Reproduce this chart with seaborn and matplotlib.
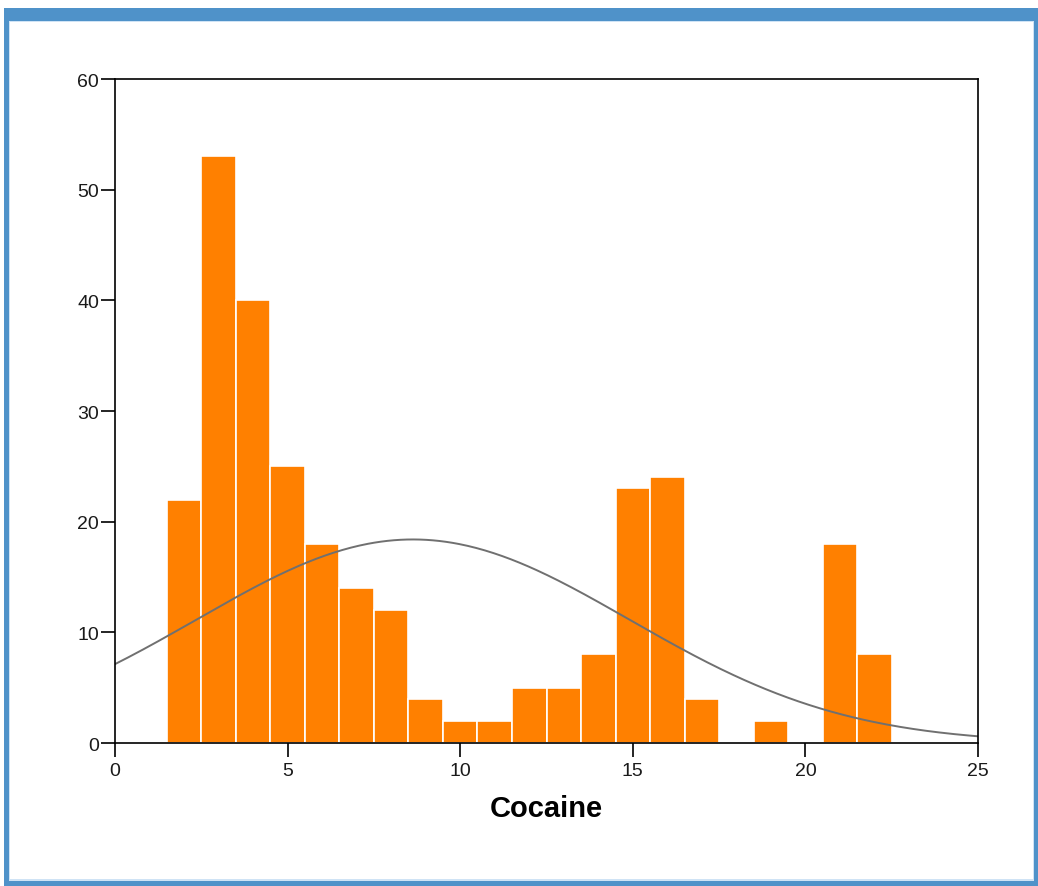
import numpy as np
import pandas as pd
import matplotlib
matplotlib.use("Agg")
import matplotlib.pyplot as plt
from matplotlib.patches import Rectangle
import seaborn as sns

# Frequency table: integer values of Cocaine and their counts
values = [2, 3, 4, 5, 6, 7, 8, 9, 10, 11, 12, 13, 14, 15, 16, 17, 18, 19, 20, 21, 22]
counts = [22, 53, 40, 25, 18, 14, 12, 4, 2, 2, 5, 5, 8, 23, 24, 4, 0, 2, 0, 18, 8]
x_ticks = [0, 5, 10, 15, 20, 25]
y_ticks = [0, 10, 20, 30, 40, 50, 60]

df = pd.DataFrame({"Cocaine": values, "n": counts})

sns.set_style("white")
plt.rcParams["font.family"] = ["Liberation Sans", "DejaVu Sans"]

fig = plt.figure(figsize=(10.38, 8.87), dpi=100)

# Blue window frame around the chart
fig.patches.append(Rectangle((0.004, 0.0), 0.996, 0.99, transform=fig.transFigure,
                             facecolor="#4f92c9", edgecolor="none", zorder=-10))
fig.patches.append(Rectangle((0.0087, 0.006), 0.9875, 0.9695, transform=fig.transFigure,
                             facecolor="#cfe3f5", edgecolor="none", zorder=-9))
fig.patches.append(Rectangle((0.0097, 0.0075), 0.9855, 0.9665, transform=fig.transFigure,
                             facecolor="white", edgecolor="none", zorder=-8))

ax = fig.add_axes([0.1108, 0.1612, 0.8314, 0.7486])
ax.set_facecolor("white")

sns.histplot(data=df, x="Cocaine", weights="n", binwidth=1, binrange=(1.5, 22.5), ax=ax,
             color="#ff8000", alpha=1.0, edgecolor="white", linewidth=1.2)

# Normal curve scaled to the counts (bin width 1)
w = np.array(counts, dtype=float)
v = np.array(values, dtype=float)
total = w.sum()
mean = (w * v).sum() / total
sd = np.sqrt((w * (v - mean) ** 2).sum() / (total - 1))
xs = np.linspace(0, 25, 400)
ys = total * 1.0 / (sd * np.sqrt(2 * np.pi)) * np.exp(-0.5 * ((xs - mean) / sd) ** 2)
sns.lineplot(x=xs, y=ys, ax=ax, color="#707070", linewidth=1.4)

ax.set_xlim(0, 25)
ax.set_ylim(0, 60)
ax.set_xticks(x_ticks)
ax.set_yticks(y_ticks)
ax.tick_params(axis="both", direction="out", length=10, width=1.2, color="black",
               labelsize=14, labelcolor="#1a1a1a", bottom=True, left=True, pad=1.5)
ax.tick_params(axis="x", pad=3.5)
for s in ax.spines.values():
    s.set_visible(True)
    s.set_color("black")
    s.set_linewidth(1.2)

ax.set_xlabel("Cocaine", fontsize=21, fontweight="bold", labelpad=11, color="black")
ax.set_ylabel("")

fig.savefig("out.png", dpi=100)
